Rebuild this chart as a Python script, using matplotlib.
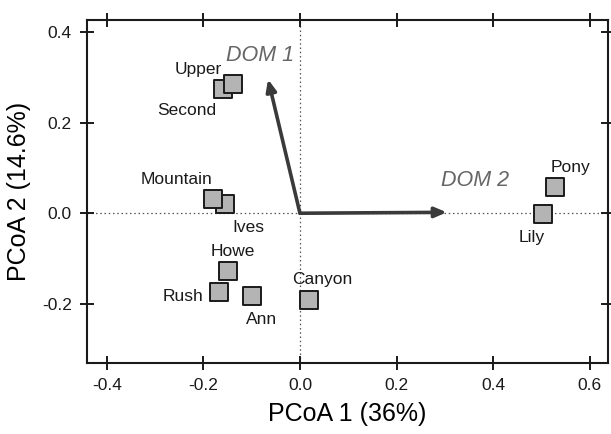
import matplotlib
matplotlib.use("Agg")
import matplotlib.pyplot as plt

plt.rcParams['font.family'] = ['Liberation Sans', 'DejaVu Sans']

sites = ["Second", "Upper", "Ives", "Mountain", "Howe", "Rush", "Ann", "Canyon", "Pony", "Lily"]
pcoa1 = [-0.159, -0.139, -0.155, -0.180, -0.149, -0.168, -0.099, 0.019, 0.528, 0.503]
pcoa2 = [0.274, 0.285, 0.020, 0.031, -0.128, -0.175, -0.184, -0.192, 0.058, -0.002]

vectors = ["DOM 1", "DOM 2"]
vec_x = [-0.066, 0.304]
vec_y = [0.296, 0.002]

xticks = [-0.4, -0.2, 0.0, 0.2, 0.4, 0.6]
yticks = [-0.2, 0.0, 0.2, 0.4]

# label offsets (pixels) and alignment
label_style = {
    "Upper": ((-11, 15), "right"),
    "Second": ((-7, -21), "right"),
    "Mountain": ((-1, 20), "right"),
    "Ives": ((7, -23), "left"),
    "Howe": ((4.5, 20), "center"),
    "Rush": ((-15, -4), "right"),
    "Ann": ((9, -23), "center"),
    "Canyon": ((13, 21), "center"),
    "Pony": ((15.5, 19), "center"),
    "Lily": ((-11, -23), "center"),
}
vec_label_off = {"DOM 1": (-8.5, 24), "DOM 2": (28, 32)}

fig = plt.figure(figsize=(6.11, 4.34), dpi=100)
ax = fig.add_axes([0.1424, 0.1636, 0.9951 - 0.1424, 0.9539 - 0.1636])

ax.set_xlim(-0.441, 0.638)
ax.set_ylim(-0.331, 0.427)

ax.axhline(0, color="#555555", lw=0.9, ls=(0, (1.2, 2.2)), zorder=1)
ax.axvline(0, color="#555555", lw=0.9, ls=(0, (1.2, 2.2)), zorder=1)

for name, vx, vy in zip(vectors, vec_x, vec_y):
    ax.annotate("", xy=(vx, vy), xytext=(0, 0),
                arrowprops=dict(arrowstyle="-|>,head_length=0.7,head_width=0.3",
                                color="#3a3a3a", lw=2.6, shrinkA=0, shrinkB=0),
                zorder=2)
    ax.annotate(name, xy=(vx, vy), xytext=vec_label_off[name], textcoords="offset pixels",
                ha="center", va="center", fontsize=15.5, style="italic", color="#666666")

for x, y in zip(pcoa1, pcoa2):
    ax.scatter([x], [y], marker="s", s=185, facecolor="#b4b4b4", edgecolor="#1a1a1a",
               linewidths=1.4, zorder=3)

for name, x, y in zip(sites, pcoa1, pcoa2):
    off, ha = label_style[name]
    ax.annotate(name, xy=(x, y), xytext=off, textcoords="offset pixels",
                ha=ha, va="center", fontsize=12.5, color="#1a1a1a")

ax.set_xticks(xticks)
ax.set_xticklabels([f"{v:.1f}" for v in xticks])
ax.set_yticks(yticks)
ax.set_yticklabels([f"{v:.1f}" for v in yticks])
ax.tick_params(direction="inout", length=10, width=1.4, labelsize=12.5,
               top=True, right=True, colors="#1a1a1a", pad=6)
for s in ax.spines.values():
    s.set_linewidth(1.5)
    s.set_color("#1a1a1a")

ax.set_xlabel("PCoA 1 (36%)", fontsize=18, labelpad=6)
ax.set_ylabel("PCoA 2 (14.6%)", fontsize=18, labelpad=8)

fig.savefig("out.png", dpi=100)
